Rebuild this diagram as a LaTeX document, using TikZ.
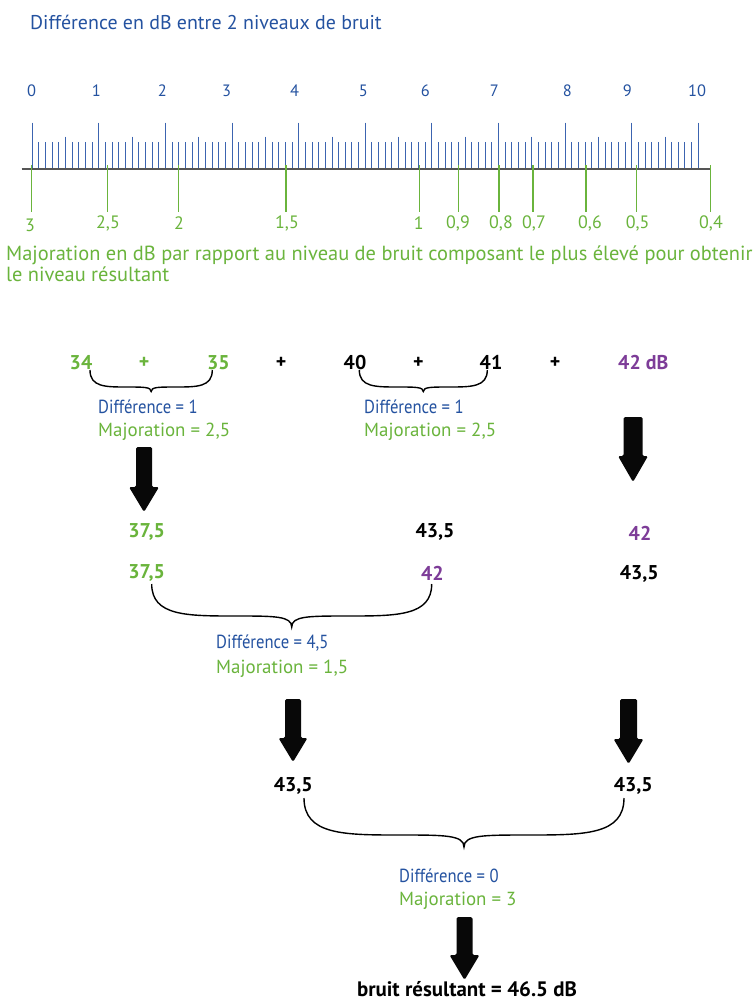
\documentclass[tikz,border=0pt]{standalone}
\usepackage{fontspec}
\setmainfont{PT Sans}
\definecolor{tblue}{RGB}{36,82,160}
\definecolor{kblue}{RGB}{60,100,176}
\definecolor{tgreen}{RGB}{106,180,60}
\definecolor{tpurple}{RGB}{125,60,152}
\definecolor{axgray}{RGB}{85,85,85}
\newcommand\curlyb[5]{%
  \pgfmathsetmacro\xm{(#1+#2)/2}%
  \pgfmathsetmacro\hw{(#2-#1)/2}%
  \draw[brc] (#1,#3) .. controls (#1,#4) and (#1+0.25*\hw,#4) .. (#1+0.6*\hw,#4)
     .. controls (\xm-0.12*\hw,#4) and (\xm,#4) .. (\xm,#5)
     .. controls (\xm,#4) and (\xm+0.12*\hw,#4) .. (#2-0.6*\hw,#4)
     .. controls (#2-0.25*\hw,#4) and (#2,#4) .. (#2,#3);}
\newcommand\blockarr[6]{% xc ytop ytip shaftw headw headlen
  \fill[black!97,rounded corners=1.5] (#1-#4/2,#2) -- (#1+#4/2,#2) -- (#1+#4/2,#3-#6) -- (#1+#5/2,#3-#6)
     -- (#1,#3) -- (#1-#5/2,#3-#6) -- (#1-#4/2,#3-#6) -- cycle;}
\newcommand\diffl[1]{\scalebox{0.88}[1]{Différence = #1}}
\begin{document}
\begin{tikzpicture}[x=1bp,y=-1bp,
  brc/.style={line width=1.4bp,black},
  sc/.style={text=tblue,font=\fontsize{16.5}{19}\selectfont,inner sep=0pt},
  gl/.style={text=tgreen,font=\fontsize{18}{21}\selectfont,inner sep=0pt},
  num/.style={font=\fontsize{20}{23}\selectfont\bfseries,inner sep=0pt},
  lbl/.style={font=\fontsize{19}{22}\selectfont,inner sep=0pt,anchor=west},
  gtick/.style={tgreen,line width=1.1bp}]
\useasboundingbox (0,0) rectangle (754,1003);
\fill[white] (0,0) rectangle (754,1003);
% title
\node[text=tblue,font=\fontsize{20}{23}\selectfont,inner sep=0pt,anchor=west] (title) at (30,22) {Différence en dB entre 2 niveaux de bruit};
% scale numbers
\foreach \v/\x [count=\k] in {0/31.7,1/96.3,2/162.3,3/226.7,4/294.7,5/363.3,6/425.3,7/494.3,8/567.3,9/627.3,10/697}
  \node[sc] (s\k) at (\x,90.7) {\v};
% ticks
\foreach \i in {0,...,100}{
  \pgfmathsetmacro\xx{32.3+6.66*\i}
  \pgfmathtruncatemacro\mten{mod(\i,10)}
  \pgfmathtruncatemacro\mfive{mod(\i,5)}
  \ifnum\mten=0 \def\yt{122.7}\else\ifnum\mfive=0 \def\yt{136.7}\else\def\yt{142}\fi\fi
  \draw[kblue,line width=1bp] (\xx,\yt) -- (\xx,168.5);
}
\draw[axgray,line width=2bp] (21.7,169.3) -- (710.7,169.3);
% green marks
\foreach \x in {31.3,107.3,178.7,286,419.3,458.3,499,533,586,636.7,710.7}
  \draw[gtick] (\x,165) -- (\x,212);
\foreach \v/\x/\y [count=\k] in {3/30/225.7,{2,5}/108/223.3,2/179/223.3,{1,5}/287/223.3,1/418.7/223.3,{0,9}/458/223.3,{0,8}/501/223.3,{0,7}/534/223.3,{0,6}/590/223.3,{0,5}/637.7/223.3,{0,4}/711/223.3}
  \node[gl] (g\k) at (\x,\y) {\v};
\node[text=tgreen,font=\fontsize{20.5}{23}\selectfont,inner sep=0pt,anchor=west] (cap1) at (6,255) {Majoration en dB par rapport au niveau de bruit composant le plus élevé pour obtenir};
\node[text=tgreen,font=\fontsize{20.5}{23}\selectfont,inner sep=0pt,anchor=west] (cap2) at (6,274) {le niveau résultant};
% row 1
\node[num,text=tgreen] (n34) at (81,362.7) {34};
\node[num,text=tgreen] (p1) at (144,362.7) {+};
\node[num,text=tgreen] (n35) at (218.3,362.7) {35};
\node[num] (p2) at (281,362.7) {+};
\node[num] (n40) at (355,362.7) {40};
\node[num] (p3) at (418.3,362.7) {+};
\node[num] (n41) at (491,362.7) {41};
\node[num] (p4) at (555,362.7) {+};
\node[num,text=tpurple] (n42) at (643.3,362.7) {42 dB};
\curlyb{90}{212.3}{370}{387}{391.5}
\curlyb{359.3}{487.3}{370}{387}{391.5}
\node[lbl,text=tblue] (d1) at (98,406.7) {\diffl{1}};
\node[lbl,text=tgreen] (m1) at (98,431.7) {Majoration = 2,5};
\node[lbl,text=tblue] (d2) at (364,406.7) {\diffl{1}};
\node[lbl,text=tgreen] (m2) at (364,431.7) {Majoration = 2,5};
\blockarr{144}{447}{512}{16}{30}{25}
\blockarr{633}{417}{482}{19}{30}{26}
% row 2
\node[num,text=tgreen] (r2a) at (146.7,532.3) {37,5};
\node[num] (r2b) at (435,532) {43,5};
\node[num,text=tpurple] (r2c) at (640,533.3) {42};
% row 3
\node[num,text=tgreen] (r3a) at (146.7,573.3) {37,5};
\node[num,text=tpurple] (r3b) at (432.3,573) {42};
\node[num] (r3c) at (639.3,574) {43,5};
\curlyb{151.7}{431.7}{584}{616}{627}
\node[lbl,text=tblue] (d3) at (216,643.3) {\diffl{4,5}};
\node[lbl,text=tgreen] (m3) at (216,668.3) {Majoration = 1,5};
\blockarr{293}{699}{762}{16}{29}{24}
\blockarr{628.5}{699}{764}{17}{30}{25}
% row 4
\node[num] (r4a) at (293.3,785.7) {43,5};
\node[num] (r4b) at (633.3,785.7) {43,5};
\curlyb{304}{624}{798}{835}{847}
\node[lbl,text=tblue] (d4) at (399,876) {\diffl{0}};
\node[lbl,text=tgreen] (m4) at (399,901) {Majoration = 3};
\blockarr{464.5}{917}{980}{16}{30}{25}
\node[num,font=\fontsize{21}{24}\selectfont\bfseries,anchor=base] (res) at (467,996) {bruit résultant = 46.5 dB};
\end{tikzpicture}
\end{document}
